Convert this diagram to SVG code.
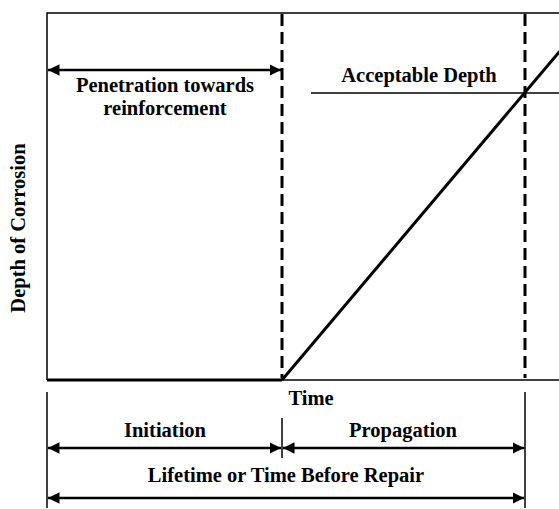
<svg xmlns="http://www.w3.org/2000/svg" width="559" height="509" viewBox="0 0 559 509">
<style>
text{font-family:"Liberation Serif","Times New Roman",serif;font-weight:bold;font-size:20.5px;fill:#000;text-anchor:middle}
.thin{stroke:#000;stroke-width:1.5;fill:none}
.thick{stroke:#000;stroke-width:3;fill:none}
.dash{stroke:#000;stroke-width:3;fill:none;stroke-dasharray:12 6}
.arr{stroke:#000;stroke-width:2.5;fill:none}
</style>
<defs>
<marker id="ah" viewBox="0 0 10 10" refX="10" refY="5" markerWidth="4.6" markerHeight="4.6" markerUnits="strokeWidth" orient="auto-start-reverse">
<path d="M0,0 L10,5 L0,10 Z" fill="#000"/>
</marker>
</defs>
<rect width="559" height="509" fill="#fff"/>
<g id="axes">
<path class="thin" d="M47,380 L47,13 L559,13"/>
<path class="thin" d="M282,380 L559,380"/>
<path class="thick" d="M47,380 L282,380"/>
</g>
<g id="connectors">
<path class="dash" d="M282,14 L282,378"/>
<path class="dash" d="M525,14 L525,378"/>
<path class="thick" d="M282,380 L560,51"/>
<path class="thin" d="M311,93 L559,93"/>
<path class="arr" d="M48,70 L281,70" marker-start="url(#ah)" marker-end="url(#ah)"/>
<path class="thin" d="M47,392 L47,508"/>
<path class="thin" d="M525,392 L525,508"/>
<path class="thin" d="M282,418 L282,458"/>
<path class="arr" d="M48,448 L281,448" marker-start="url(#ah)" marker-end="url(#ah)"/>
<path class="arr" d="M283,448 L524,448" marker-start="url(#ah)" marker-end="url(#ah)"/>
<path class="arr" d="M48,498 L524,498" marker-start="url(#ah)" marker-end="url(#ah)"/>
</g>
<g id="labels">
<text x="165" y="92">Penetration towards</text>
<text x="165" y="115">reinforcement</text>
<text x="419" y="82">Acceptable Depth</text>
<text x="311" y="405">Time</text>
<text x="165" y="437">Initiation</text>
<text x="403" y="437">Propagation</text>
<text x="286" y="482">Lifetime or Time Before Repair</text>
<text transform="translate(25,228) rotate(-90)">Depth of Corrosion</text>
</g>
</svg>
